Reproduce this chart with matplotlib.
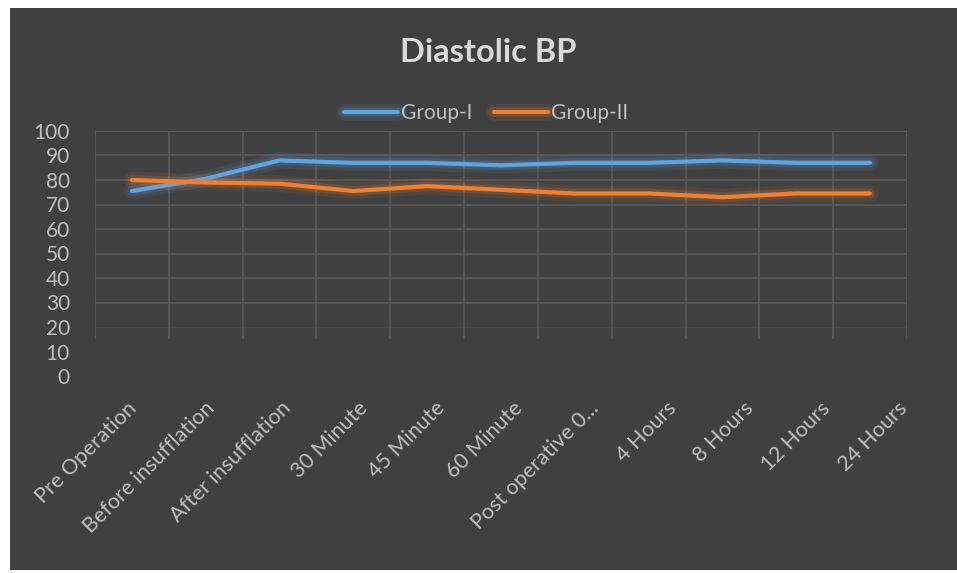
import matplotlib
matplotlib.use("Agg")
import matplotlib.pyplot as plt
import matplotlib.patheffects as pe
from matplotlib.patches import Rectangle
import numpy as np

categories = ["Pre Operation", "Before insufflation", "After insufflation",
              "30 Minute", "45 Minute", "60 Minute", "Post operative 0...",
              "4 Hours", "8 Hours", "12 Hours", "24 Hours"]
group_1 = [75.5, 80.5, 88, 87, 87, 86, 87, 87, 88, 87, 87]
group_2 = [80, 79, 78.5, 75.5, 77.5, 76, 74.5, 74.5, 73, 74.5, 74.5]
y_ticks = [0, 10, 20, 30, 40, 50, 60, 70, 80, 90, 100]

BG = "#404040"
GRID = "#5a5a5a"
TEXT = "#bfbfbf"
BLUE = "#5fa3e3"
ORANGE = "#ef7f33"

plt.rcParams["font.family"] = ["Lato", "DejaVu Sans"]

W, H = 957, 573
fig = plt.figure(figsize=(W / 100, H / 100), dpi=100, facecolor="white")

# dark chart panel
fig.patches.append(Rectangle((10 / W, 3 / H), 1 - 10 / W, (H - 11) / H,
                             transform=fig.transFigure, facecolor=BG,
                             edgecolor="none", zorder=-10))

left, right, top, bottom = 95, 907, 131, 376
ax = fig.add_axes([left / W, 1 - bottom / H, (right - left) / W, (bottom - top) / H])
ax.set_facecolor("none")
n = len(categories)
x = np.arange(n)

# grid: horizontal lines fade out near the base, vertical separators stop short
for v in y_ticks:
    if v >= 30:
        ax.axhline(v, color=GRID, lw=1.2, zorder=1)
    elif v == 20:
        ax.axhline(v, color=GRID, lw=1.0, alpha=0.35, zorder=1)
ax.vlines(np.arange(-0.5, n, 1.0), 15, 100, colors=GRID, lw=1.2, zorder=1)

glow1 = [pe.Stroke(linewidth=12, foreground=BLUE, alpha=0.10),
         pe.Stroke(linewidth=7, foreground=BLUE, alpha=0.16), pe.Normal()]
glow2 = [pe.Stroke(linewidth=12, foreground=ORANGE, alpha=0.10),
         pe.Stroke(linewidth=7, foreground=ORANGE, alpha=0.16), pe.Normal()]
ax.plot(x, group_1, color=BLUE, lw=3, solid_capstyle="round",
        label="Group-I", path_effects=glow1, zorder=3)
ax.plot(x, group_2, color=ORANGE, lw=3, solid_capstyle="round",
        label="Group-II", path_effects=glow2, zorder=3)

ax.set_xlim(-0.5, n - 0.5)
ax.set_ylim(0, 100)
ax.set_yticks(y_ticks)
ax.set_yticklabels([str(v) for v in y_ticks])
ax.set_xticks([])
ax.tick_params(axis="y", length=0, colors=TEXT, labelsize=15, pad=18)
for s in ax.spines.values():
    s.set_visible(False)

# category labels sit on a slightly wider band than the plot area
lab_left, lab_step = 127 - 38.5, 77
ax_lab = fig.add_axes([lab_left / W, 1 - bottom / H, n * lab_step / W,
                       (bottom - top) / H], zorder=-1)
ax_lab.set_xlim(-0.5, n - 0.5)
ax_lab.set_xticks(x)
ax_lab.set_xticklabels(categories, rotation=45, ha="right", rotation_mode="anchor")
ax_lab.tick_params(axis="x", length=0, colors=TEXT, labelsize=15.5, pad=16)
ax_lab.set_yticks([])
ax_lab.patch.set_visible(False)
for s in ax_lab.spines.values():
    s.set_visible(False)

fig.text(488 / W, 1 - 62 / H, "Diastolic BP", ha="center", va="baseline",
         fontsize=23.5, fontweight="bold", color="#d9d9d9")

leg = fig.legend(loc="center", bbox_to_anchor=(486 / W, 1 - 113 / H), ncol=2,
                 frameon=False, fontsize=15, handlelength=2.6,
                 handletextpad=0.15, columnspacing=1.0)
for t in leg.get_texts():
    t.set_color(TEXT)

fig.savefig("out.png", dpi=100, facecolor="white")
